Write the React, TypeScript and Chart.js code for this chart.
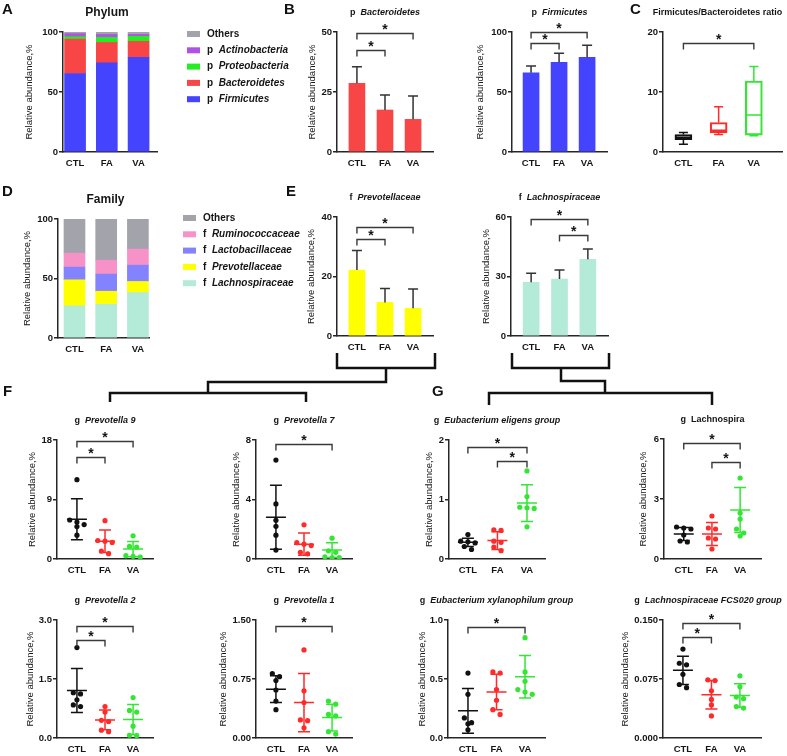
import React, { useEffect, useRef } from "react";
import { Chart, registerables } from "chart.js";

Chart.register(...registerables);

const FONT = '"Liberation Sans", Arial, Helvetica, sans-serif';
const AXIS_COLOR = "#262626";
const TEXT_COLOR = "#151515";
const ML = 56;
const MT = 34;
const MB = 26;

// ---------------- data ----------------
const groups = ["CTL", "FA", "VA"];
const groupColors = ["#111111", "#ff2a2a", "#33e633"];
const yAxisTitle = "Relative abundance,%";

// A: phylum composition
const phylumNames = ["Firmicutes", "Bacteroidetes", "Proteobacteria", "Actinobacteria", "Others"];
const phylumPrefixes = ["p", "p", "p", "p", ""];
const phylumColors = ["#4444ff", "#f84545", "#22ee22", "#b251e6", "#a3a3ab"];
const phylumFirmicutes = [65.4, 74.3, 78.8];
const phylumBacteroidetes = [28.7, 17.0, 13.4];
const phylumProteobacteria = [2.0, 4.2, 4.2];
const phylumActinobacteria = [2.5, 2.5, 1.6];
const phylumOthers = [1.4, 2.0, 2.0];

// D: family composition
const familyNames = ["Lachnospiraceae", "Prevotellaceae", "Lactobacillaceae", "Ruminococcaceae", "Others"];
const familyPrefixes = ["f", "f", "f", "f", ""];
const familyColors = ["#b4ead8", "#ffff00", "#8383ff", "#f792c8", "#a3a3ab"];
const familyLachnospiraceae = [27.0, 28.4, 38.2];
const familyPrevotellaceae = [21.9, 10.9, 9.3];
const familyLactobacillaceae = [10.7, 14.4, 13.7];
const familyRuminococcaceae = [11.7, 11.7, 13.5];
const familyOthers = [28.7, 34.6, 25.3];

const pctTicks = [0, 50, 100];
const pctTickLabels = ["0", "50", "100"];

// B
const bacteroidetesMean = [28.6, 17.5, 13.6];
const bacteroidetesSd = [6.9, 6.3, 9.7];
const bacteroidetesSig = [[0, 1, 42.5], [0, 2, 49.6]];
const bacteroidetesTicks = [0, 25, 50];
const firmicutesMean = [66.0, 74.7, 78.9];
const firmicutesSd = [5.7, 7.5, 10.0];
const firmicutesSig = [[0, 1, 91], [0, 2, 100]];

// C
const ratioMin = [1.3, 2.9, 2.7];
const ratioQ1 = [2.07, 3.18, 2.8];
const ratioMedian = [2.4, 3.63, 6.15];
const ratioQ3 = [2.9, 4.92, 11.84];
const ratioMax = [3.24, 7.54, 14.25];
const ratioSig = [[0, 2, 18.2]];
const ratioTicks = [0, 10, 20];

// E
const prevotellaceaeMean = [22.2, 11.3, 9.3];
const prevotellaceaeSd = [6.5, 4.7, 6.5];
const prevotellaceaeSig = [[0, 1, 32.5], [0, 2, 36.7]];
const prevotellaceaeTicks = [0, 20, 40];
const lachnospiraceaeMean = [27.1, 28.7, 38.7];
const lachnospiraceaeSd = [4.5, 4.6, 5.2];
const lachnospiraceaeSig = [[0, 2, 59], [1, 2, 50.9]];
const lachnospiraceaeTicks = [0, 30, 60];

// F / G genus dot plots (CTL, FA, VA)
const prevotella9Points = [
  [12.0, 5.9, 5.6, 5.2, 4.9, 3.6],
  [5.8, 2.8, 2.7, 2.5, 1.2, 0.8],
  [3.5, 1.9, 1.8, 0.5, 0.4, 0.3],
];
const prevotella9Mean = [6.0, 2.7, 1.5];
const prevotella9Sd = [3.1, 1.7, 1.15];
const prevotella9Sig = [[0, 1, 15.4], [0, 2, 17.9]];
const prevotella9Ticks = [0, 9, 18];

const prevotella7Points = [
  [6.65, 3.7, 2.6, 2.2, 1.6, 0.6],
  [2.3, 1.1, 1.0, 0.9, 0.45, 0.35],
  [1.4, 0.55, 0.45, 0.15, 0.1, 0.1],
];
const prevotella7Mean = [2.8, 1.0, 0.6];
const prevotella7Sd = [2.15, 0.75, 0.5];
const prevotella7Sig = [[0, 2, 7.7]];
const prevotella7Ticks = [0, 4, 8];

const eligensPoints = [
  [0.41, 0.3, 0.29, 0.27, 0.21, 0.16],
  [0.49, 0.48, 0.3, 0.28, 0.2, 0.14],
  [1.48, 1.05, 0.87, 0.86, 0.85, 0.54],
];
const eligensMean = [0.28, 0.31, 0.94];
const eligensSd = [0.07, 0.15, 0.31];
const eligensSig = [[0, 2, 1.88], [1, 2, 1.64]];
const eligensTicks = [0, 1, 2];

const lachnospiraPoints = [
  [1.6, 1.55, 1.5, 1.2, 0.9, 0.85],
  [2.15, 1.55, 1.5, 1.05, 1.0, 0.5],
  [4.05, 2.3, 2.0, 1.5, 1.3, 1.15],
];
const lachnospiraMean = [1.25, 1.25, 2.45];
const lachnospiraSd = [0.32, 0.57, 1.12];
const lachnospiraSig = [[0, 2, 5.78], [1, 2, 4.83]];
const lachnospiraTicks = [0, 3, 6];

const prevotella2Points = [
  [2.3, 1.15, 1.12, 0.97, 0.84, 0.8],
  [0.8, 0.66, 0.45, 0.42, 0.2, 0.16],
  [1.03, 0.7, 0.66, 0.3, 0.07, 0.06],
];
const prevotella2Mean = [1.21, 0.46, 0.47];
const prevotella2Sd = [0.56, 0.25, 0.38];
const prevotella2Sig = [[0, 1, 2.5], [0, 2, 2.85]];
const prevotella2Ticks = [0, 1.5, 3];
const prevotella2TickLabels = ["0.0", "1.5", "3.0"];

const prevotella1Points = [
  [0.82, 0.78, 0.73, 0.61, 0.47, 0.36],
  [1.12, 0.6, 0.45, 0.23, 0.22, 0.13],
  [0.47, 0.43, 0.3, 0.28, 0.08, 0.05],
];
const prevotella1Mean = [0.62, 0.45, 0.26];
const prevotella1Sd = [0.17, 0.37, 0.17];
const prevotella1Sig = [[0, 2, 1.43]];
const prevotella1Ticks = [0, 0.75, 1.5];
const prevotella1TickLabels = ["0.00", "0.75", "1.50"];

const xylanophilumPoints = [
  [0.55, 0.37, 0.17, 0.13, 0.12, 0.07],
  [0.56, 0.55, 0.41, 0.32, 0.24, 0.2],
  [0.85, 0.56, 0.48, 0.41, 0.39, 0.37],
];
const xylanophilumMean = [0.23, 0.39, 0.52];
const xylanophilumSd = [0.19, 0.15, 0.18];
const xylanophilumSig = [[0, 2, 0.94]];
const xylanophilumTicks = [0, 0.5, 1];
const xylanophilumTickLabels = ["0.0", "0.5", "1.0"];

const fcs020Points = [
  [0.113, 0.095, 0.093, 0.081, 0.068, 0.064],
  [0.074, 0.073, 0.06, 0.049, 0.042, 0.028],
  [0.079, 0.065, 0.052, 0.05, 0.04, 0.038],
];
const fcs020Mean = [0.086, 0.055, 0.054];
const fcs020Sd = [0.018, 0.018, 0.015];
const fcs020Sig = [[0, 1, 0.129], [0, 2, 0.146]];
const fcs020Ticks = [0, 0.075, 0.15];
const fcs020TickLabels = ["0.000", "0.075", "0.150"];

// ---------------- helpers ----------------
type Seg = { t: string; i: boolean };
type Frame = { l: number; t: number; r: number; b: number; mr?: number };

const seg = (prefix: string, name: string, italic = true): Seg[] =>
  prefix ? [{ t: prefix + "  ", i: false }, { t: name, i: italic }] : [{ t: name, i: false }];

const fontStr = (size: number, bold: boolean, italic: boolean) =>
  `${italic ? "italic " : ""}${bold ? "bold " : ""}${size}px ${FONT}`;

function drawSegs(ctx: CanvasRenderingContext2D, segs: Seg[], x: number, y: number, size: number, align: "center" | "left") {
  let total = 0;
  const ws = segs.map((s) => {
    ctx.font = fontStr(size, true, s.i);
    const w = ctx.measureText(s.t).width;
    total += w;
    return w;
  });
  let cx = align === "center" ? x - total / 2 : x;
  ctx.textBaseline = "middle";
  ctx.textAlign = "left";
  ctx.fillStyle = TEXT_COLOR;
  segs.forEach((s, k) => {
    ctx.font = fontStr(size, true, s.i);
    ctx.fillText(s.t, cx, y);
    cx += ws[k];
  });
}

function drawTitle(chart: any, ctx: CanvasRenderingContext2D, segs: Seg[], size: number, dx = 0) {
  const ca = chart.chartArea;
  drawSegs(ctx, segs, (ca.left + ca.right) / 2 + dx, ca.top - 19, size, "center");
}

function drawBrackets(chart: any, ctx: CanvasRenderingContext2D, sig: number[][]) {
  const xs = chart.scales.x, ys = chart.scales.y;
  ctx.strokeStyle = "#3a3a3a";
  ctx.lineWidth = 1.4;
  ctx.fillStyle = TEXT_COLOR;
  sig.forEach(([a, b, v]) => {
    const x1 = xs.getPixelForValue(a), x2 = xs.getPixelForValue(b), y = Math.round(ys.getPixelForValue(v)) + 0.5;
    ctx.beginPath();
    ctx.moveTo(x1, y + 6);
    ctx.lineTo(x1, y);
    ctx.lineTo(x2, y);
    ctx.lineTo(x2, y + 6);
    ctx.stroke();
    ctx.font = fontStr(14, true, false);
    ctx.textAlign = "center";
    ctx.textBaseline = "alphabetic";
    ctx.fillText("*", (x1 + x2) / 2, y + 0.5);
  });
}

function drawErrUp(chart: any, ctx: CanvasRenderingContext2D, mean: number[], sd: number[]) {
  const xs = chart.scales.x, ys = chart.scales.y;
  ctx.strokeStyle = "#333";
  ctx.lineWidth = 1.5;
  mean.forEach((m, i) => {
    const x = xs.getPixelForValue(i), y0 = ys.getPixelForValue(m), y1 = ys.getPixelForValue(m + sd[i]);
    ctx.beginPath();
    ctx.moveTo(x, y0);
    ctx.lineTo(x, y1);
    ctx.moveTo(x - 5, y1);
    ctx.lineTo(x + 5, y1);
    ctx.stroke();
  });
}

function drawMeanSd(chart: any, ctx: CanvasRenderingContext2D, mean: number[], sd: number[]) {
  const xs = chart.scales.x, ys = chart.scales.y;
  ctx.lineWidth = 1.5;
  mean.forEach((m, i) => {
    const x = xs.getPixelForValue(i);
    const ym = ys.getPixelForValue(m);
    const yt = ys.getPixelForValue(m + sd[i]);
    const yb = ys.getPixelForValue(Math.max(ys.min, m - sd[i]));
    ctx.strokeStyle = groupColors[i];
    ctx.beginPath();
    ctx.moveTo(x - 10, ym);
    ctx.lineTo(x + 10, ym);
    ctx.moveTo(x, yt);
    ctx.lineTo(x, yb);
    ctx.moveTo(x - 6, yt);
    ctx.lineTo(x + 6, yt);
    ctx.moveTo(x - 6, yb);
    ctx.lineTo(x + 6, yb);
    ctx.stroke();
  });
}

function drawBoxExtras(chart: any, ctx: CanvasRenderingContext2D) {
  const xs = chart.scales.x, ys = chart.scales.y;
  ctx.lineWidth = 1.5;
  groups.forEach((_, i) => {
    const x = xs.getPixelForValue(i);
    ctx.strokeStyle = groupColors[i];
    const p = (v: number) => ys.getPixelForValue(v);
    ctx.beginPath();
    ctx.moveTo(x - 8, p(ratioMedian[i]));
    ctx.lineTo(x + 8, p(ratioMedian[i]));
    ctx.moveTo(x, p(ratioQ3[i]));
    ctx.lineTo(x, p(ratioMax[i]));
    ctx.moveTo(x - 4.5, p(ratioMax[i]));
    ctx.lineTo(x + 4.5, p(ratioMax[i]));
    ctx.moveTo(x, p(ratioQ1[i]));
    ctx.lineTo(x, p(ratioMin[i]));
    ctx.moveTo(x - 4.5, p(ratioMin[i]));
    ctx.lineTo(x + 4.5, p(ratioMin[i]));
    ctx.stroke();
  });
}

function drawLegend(chart: any, ctx: CanvasRenderingContext2D, names: string[], prefixes: string[], colors: string[], dx: number, dy: number) {
  const ca = chart.chartArea;
  const x0 = ca.right + dx, y0 = ca.top + dy;
  const order = names.map((_, k) => k).reverse();
  order.forEach((k, row) => {
    const y = y0 + row * 16.3;
    ctx.fillStyle = colors[k];
    ctx.fillRect(x0, y - 3, 13, 6);
    drawSegs(ctx, seg(prefixes[k], names[k]), x0 + 20, y, 10, "left");
  });
}

function swarmOffsets(vals: number[], thr: number, step: number): number[] {
  const idx = vals.map((_, i) => i).sort((a, b) => vals[b] - vals[a]);
  const out = new Array(vals.length).fill(0);
  let k = 0;
  while (k < idx.length) {
    let j = k + 1;
    while (j < idx.length && vals[idx[k]] - vals[idx[j]] < thr) j++;
    const n = j - k;
    for (let m = 0; m < n; m++) out[idx[k + m]] = (m - (n - 1) / 2) * step;
    k = j;
  }
  return out;
}

const tickFont = { family: FONT, size: 9.5, weight: "bold" as const };

function scalesFor(f: Frame, xr: number[], yr: number[], yTicks: number[], yLabels: string[], yTitleX: number | null, stacked = false) {
  const boxX = f.l - ML;
  const lh = 9.5 * 1.2;
  return {
    x: {
      type: "linear",
      min: xr[0],
      max: xr[1],
      bounds: "data",
      offset: false,
      stacked,
      afterBuildTicks: (s: any) => {
        s.ticks = groups.map((_, i) => ({ value: i }));
      },
      afterFit: (s: any) => {
        s.height = MB;
      },
      ticks: { callback: (_v: any, i: number) => groups[i], font: tickFont, color: TEXT_COLOR, padding: 6, maxRotation: 0, autoSkip: false },
      grid: { display: false, drawTicks: false, tickLength: 0, offset: false },
      border: { display: true, color: AXIS_COLOR, width: 1.5 },
    },
    y: {
      type: "linear",
      min: yr[0],
      max: yr[1],
      bounds: "data",
      offset: false,
      stacked,
      afterBuildTicks: (s: any) => {
        s.ticks = yTicks.map((v) => ({ value: v }));
      },
      afterFit: (s: any) => {
        s.width = ML;
      },
      ticks: { callback: (_v: any, i: number) => yLabels[i], font: tickFont, color: TEXT_COLOR, padding: 1, autoSkip: false },
      grid: { drawOnChartArea: false, drawTicks: true, tickLength: 4, color: AXIS_COLOR, lineWidth: 1.5 },
      border: { display: true, color: AXIS_COLOR, width: 1.5 },
      title:
        yTitleX == null
          ? { display: false }
          : { display: true, text: yAxisTitle, font: { family: FONT, size: 9.5 }, color: TEXT_COLOR, padding: { top: yTitleX - boxX - lh / 2, bottom: 0 } },
    },
  };
}

function baseConfig(type: string, f: Frame, datasets: any[], scales: any, draw: (chart: any, ctx: CanvasRenderingContext2D) => void) {
  return {
    type,
    data: { datasets },
    options: {
      responsive: false,
      animation: false,
      devicePixelRatio: 1,
      layout: { padding: { left: 0, top: MT, right: f.mr ?? 45, bottom: 0 } },
      plugins: { legend: { display: false }, tooltip: { enabled: false } },
      scales,
    },
    plugins: [
      {
        id: "decor",
        afterDraw(chart: any) {
          const ctx = chart.ctx;
          ctx.save();
          draw(chart, ctx);
          ctx.restore();
        },
      },
    ],
  };
}

type Spec = { key: string; frame: Frame; make: () => any };

function stackedSpec(key: string, f: Frame, xr: number[], series: number[][], names: string[], prefixes: string[], colors: string[], title: string, titleDx: number, yTitleX: number, legendDx: number, legendDy: number): Spec {
  return {
    key,
    frame: f,
    make: () =>
      baseConfig(
        "bar",
        f,
        series.map((vals, k) => ({
          label: names[k],
          data: vals.map((v, i) => ({ x: i, y: v })),
          backgroundColor: colors[k],
          borderWidth: 0,
          barThickness: 21,
        })),
        scalesFor(f, xr, [0, 100], pctTicks, pctTickLabels, yTitleX, true),
        (chart, ctx) => {
          drawTitle(chart, ctx, seg("", title), 12, titleDx);
          drawLegend(chart, ctx, names, prefixes, colors, legendDx, legendDy);
        }
      ),
  };
}

function barSpec(key: string, f: Frame, xr: number[], yr: number[], ticks: number[], mean: number[], sd: number[], sig: number[][], color: string, title: Seg[], yTitleX: number): Spec {
  return {
    key,
    frame: f,
    make: () =>
      baseConfig(
        "bar",
        f,
        [{ data: mean.map((v, i) => ({ x: i, y: v })), backgroundColor: color, borderWidth: 0, barThickness: 16 }],
        scalesFor(f, xr, yr, ticks, ticks.map(String), yTitleX),
        (chart, ctx) => {
          drawErrUp(chart, ctx, mean, sd);
          drawBrackets(chart, ctx, sig);
          drawTitle(chart, ctx, title, 9);
        }
      ),
  };
}

function dotSpec(key: string, f: Frame, xr: number[], yr: number[], ticks: number[], tickLabels: string[], points: number[][], mean: number[], sd: number[], sig: number[][], title: Seg[], yTitleX: number, titleDx = 0): Spec {
  const pxPerX = (f.r - f.l) / (xr[1] - xr[0]);
  const pxPerY = (f.b - f.t) / (yr[1] - yr[0]);
  return {
    key,
    frame: f,
    make: () =>
      baseConfig(
        "scatter",
        f,
        points.map((vals, g) => {
          const offs = swarmOffsets(vals, 5 / pxPerY, 7.2 / pxPerX);
          return {
            data: vals.map((v, k) => ({ x: g + offs[k], y: v })),
            backgroundColor: groupColors[g],
            borderWidth: 0,
            pointRadius: 2.6,
          };
        }),
        scalesFor(f, xr, yr, ticks, tickLabels, yTitleX),
        (chart, ctx) => {
          drawMeanSd(chart, ctx, mean, sd);
          drawBrackets(chart, ctx, sig);
          drawTitle(chart, ctx, title, 9, titleDx);
        }
      ),
  };
}

const boxFrame: Frame = { l: 663, t: 32, r: 782, b: 152, mr: 10 };
const boxSpec: Spec = {
  key: "C",
  frame: boxFrame,
  make: () =>
    baseConfig(
      "bar",
      boxFrame,
      [
        {
          data: groups.map((_, i) => ({ x: i, y: [ratioQ1[i], ratioQ3[i]] })),
          backgroundColor: "rgba(255,255,255,0)",
          borderColor: groupColors,
          borderWidth: 1.5,
          borderSkipped: false,
          barThickness: 17,
        },
      ],
      scalesFor(boxFrame, [-0.58, 2.8], [0, 20], ratioTicks, ratioTicks.map(String), null),
      (chart, ctx) => {
        drawBoxExtras(chart, ctx);
        drawBrackets(chart, ctx, ratioSig);
        drawTitle(chart, ctx, seg("", "Firmicutes/Bacteroidetes ratio"), 9, -5);
      }
    ),
};

const specs: Spec[] = [
  stackedSpec(
    "A",
    { l: 63, t: 32, r: 157, b: 152, mr: 170 },
    [-0.38, 2.58],
    [phylumFirmicutes, phylumBacteroidetes, phylumProteobacteria, phylumActinobacteria, phylumOthers],
    phylumNames,
    phylumPrefixes,
    phylumColors,
    "Phylum",
    -3,
    29,
    30,
    2
  ),
  barSpec("B1", { l: 337, t: 32, r: 433, b: 152 }, [-0.71, 2.71], [0, 50], bacteroidetesTicks, bacteroidetesMean, bacteroidetesSd, bacteroidetesSig, phylumColors[1], seg("p", "Bacteroidetes"), 312),
  barSpec("B2", { l: 512, t: 32, r: 607, b: 152 }, [-0.68, 2.71], [0, 100], pctTicks, firmicutesMean, firmicutesSd, firmicutesSig, phylumColors[0], seg("p", "Firmicutes"), 480),
  boxSpec,
  stackedSpec(
    "D",
    { l: 58, t: 219, r: 149, b: 338, mr: 180 },
    [-0.52, 2.35],
    [familyLachnospiraceae, familyPrevotellaceae, familyLactobacillaceae, familyRuminococcaceae, familyOthers],
    familyNames,
    familyPrefixes,
    familyColors,
    "Family",
    2,
    27,
    34,
    -1
  ),
  barSpec("E1", { l: 337, t: 217, r: 433, b: 336 }, [-0.71, 2.71], [0, 40], prevotellaceaeTicks, prevotellaceaeMean, prevotellaceaeSd, prevotellaceaeSig, familyColors[1], seg("f", "Prevotellaceae"), 311),
  barSpec("E2", { l: 511, t: 217, r: 608, b: 336 }, [-0.71, 2.71], [0, 60], lachnospiraceaeTicks, lachnospiraceaeMean, lachnospiraceaeSd, lachnospiraceaeSig, familyColors[0], seg("f", "Lachnospiraceae"), 486),
  dotSpec("F1", { l: 57, t: 440, r: 153, b: 559 }, [-0.71, 2.71], [0, 18], prevotella9Ticks, prevotella9Ticks.map(String), prevotella9Points, prevotella9Mean, prevotella9Sd, prevotella9Sig, seg("g", "Prevotella 9"), 32),
  dotSpec("F2", { l: 256, t: 440, r: 352, b: 559 }, [-0.71, 2.71], [0, 8], prevotella7Ticks, prevotella7Ticks.map(String), prevotella7Points, prevotella7Mean, prevotella7Sd, prevotella7Sig, seg("g", "Prevotella 7"), 236),
  dotSpec("G1", { l: 449, t: 440, r: 545, b: 559 }, [-0.64, 2.61], [0, 2], eligensTicks, eligensTicks.map(String), eligensPoints, eligensMean, eligensSd, eligensSig, seg("g", "Eubacterium eligens group"), 429),
  dotSpec("G2", { l: 664, t: 439, r: 761, b: 559 }, [-0.7, 2.74], [0, 6], lachnospiraTicks, lachnospiraTicks.map(String), lachnospiraPoints, lachnospiraMean, lachnospiraSd, lachnospiraSig, seg("g", "Lachnospira", false), 643),
  dotSpec("F3", { l: 57, t: 620, r: 153, b: 738 }, [-0.71, 2.71], [0, 3], prevotella2Ticks, prevotella2TickLabels, prevotella2Points, prevotella2Mean, prevotella2Sd, prevotella2Sig, seg("g", "Prevotella 2"), 30),
  dotSpec("F4", { l: 256, t: 620, r: 352, b: 738 }, [-0.71, 2.71], [0, 1.5], prevotella1Ticks, prevotella1TickLabels, prevotella1Points, prevotella1Mean, prevotella1Sd, prevotella1Sig, seg("g", "Prevotella 1"), 223),
  dotSpec("G3", { l: 448, t: 620, r: 545, b: 738 }, [-0.7, 2.7], [0, 1], xylanophilumTicks, xylanophilumTickLabels, xylanophilumPoints, xylanophilumMean, xylanophilumSd, xylanophilumSig, seg("g", "Eubacterium xylanophilum group"), 422),
  dotSpec("G4", { l: 663, t: 620, r: 761, b: 738, mr: 30 }, [-0.7, 2.74], [0, 0.15], fcs020Ticks, fcs020TickLabels, fcs020Points, fcs020Mean, fcs020Sd, fcs020Sig, seg("g", "Lachnospiraceae FCS020 group"), 625, -4),
];

function ChartBox({ spec }: { spec: Spec }) {
  const ref = useRef<HTMLCanvasElement>(null);
  useEffect(() => {
    const chart = new Chart(ref.current as HTMLCanvasElement, spec.make());
    return () => chart.destroy();
  }, [spec]);
  const f = spec.frame;
  const mr = f.mr ?? 45;
  const x = f.l - ML, y = f.t - MT, w = f.r - f.l + ML + mr, h = f.b - f.t + MT + MB;
  return <canvas ref={ref} width={w} height={h} style={{ position: "absolute", left: x, top: y, width: w, height: h }} />;
}

const treePaths = [
  "M337 353 V368 H435 V353",
  "M386 368 V382 H208 V393",
  "M110 402 V393 H306 V402",
  "M512 353 V368 H609 V353",
  "M561 368 V381 H605 V393",
  "M489 405 V393 H712 V405",
];

const panelLetters: [string, number, number][] = [
  ["A", 2, 14],
  ["B", 284, 14],
  ["C", 630, 14],
  ["D", 2, 196],
  ["E", 286, 196],
  ["F", 3, 396],
  ["G", 432, 396],
];

export default function App() {
  return (
    <div style={{ position: "absolute", left: 0, top: 0, width: 787, height: 756, background: "#fff", overflow: "hidden" }}>
      {specs.map((s) => (
        <ChartBox key={s.key} spec={s} />
      ))}
      <svg width={787} height={756} style={{ position: "absolute", left: 0, top: 0, pointerEvents: "none" }}>
        {treePaths.map((d, i) => (
          <path key={i} d={d} fill="none" stroke="#111" strokeWidth={2.5} strokeLinejoin="miter" />
        ))}
        {panelLetters.map(([t, x, y]) => (
          <text key={t} x={x} y={y} fontFamily={FONT} fontWeight="bold" fontSize={15} fill="#111">
            {t}
          </text>
        ))}
      </svg>
    </div>
  );
}
